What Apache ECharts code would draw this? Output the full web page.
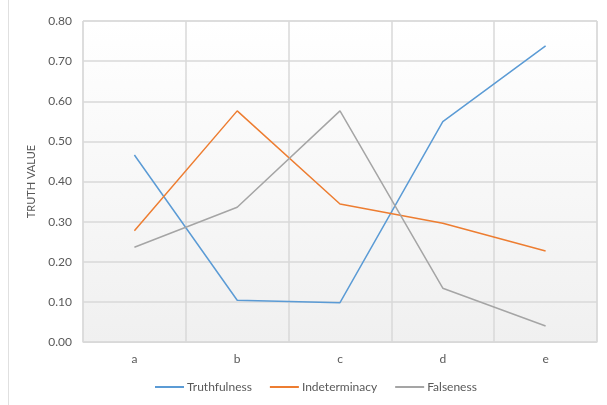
<!DOCTYPE html>
<html>
<head>
<meta charset="utf-8">
<script src="https://cdn.jsdelivr.net/npm/echarts@6/dist/echarts.min.js"></script>
<style>
  html, body { margin: 0; padding: 0; background: #fff; }
  #chart { width: 607px; height: 405px; }
</style>
</head>
<body>
<div id="chart"></div>
<script>
// Categories and the three truth-value series
const categories = ['a', 'b', 'c', 'd', 'e'];
const truthfulness = [0.466, 0.104, 0.098, 0.549, 0.738];
const indeterminacy = [0.277, 0.576, 0.344, 0.296, 0.227];
const falseness = [0.236, 0.336, 0.576, 0.134, 0.040];
const yTicks = { min: 0, max: 0.8, interval: 0.1 };

const FONT = 'Lato, "Open Sans", sans-serif';
const TEXT = '#595959';
const GRID_LINE = '#d9d9d9';

const chart = echarts.init(document.getElementById('chart'), null, { renderer: 'canvas' });

function lineSeries(name, data, color) {
  return {
    name: name,
    type: 'line',
    data: data,
    symbol: 'none',
    lineStyle: { color: color, width: 1.5 },
    itemStyle: { color: color },
    emphasis: { disabled: true },
    animation: false
  };
}

chart.setOption({
  backgroundColor: '#ffffff',
  animation: false,
  textStyle: { fontFamily: FONT },
  graphic: [{
    type: 'line',
    shape: { x1: 8.5, y1: 0, x2: 8.5, y2: 405 },
    style: { stroke: '#e0e0e0', lineWidth: 1 }
  }],
  grid: {
    left: 83, right: 10, top: 21, bottom: 63,
    show: true,
    borderColor: GRID_LINE,
    borderWidth: 1,
    backgroundColor: {
      type: 'linear', x: 0, y: 0, x2: 0, y2: 1,
      colorStops: [
        { offset: 0, color: '#ffffff' },
        { offset: 1, color: '#f0f0f0' }
      ]
    }
  },
  legend: {
    bottom: 7,
    left: 150,
    itemGap: 18,
    itemWidth: 29,
    itemHeight: 2,
    icon: 'rect',
    textStyle: { color: TEXT, fontSize: 12, fontFamily: FONT, padding: [0, 0, 0, -2] },
    data: ['Truthfulness', 'Indeterminacy', 'Falseness']
  },
  xAxis: {
    type: 'category',
    data: categories,
    boundaryGap: true,
    axisLine: { show: true, lineStyle: { color: GRID_LINE, width: 1 } },
    axisTick: { show: false },
    axisLabel: { color: TEXT, fontSize: 12, margin: 11, fontFamily: FONT },
    splitLine: { show: true, lineStyle: { color: GRID_LINE, width: 1.5 } }
  },
  yAxis: {
    type: 'value',
    min: yTicks.min,
    max: yTicks.max,
    interval: yTicks.interval,
    name: 'TRUTH VALUE',
    nameLocation: 'middle',
    nameGap: 43,
    nameTextStyle: { color: TEXT, fontSize: 11, fontFamily: FONT },
    axisLine: { show: false },
    axisTick: { show: false },
    axisLabel: {
      color: TEXT, fontSize: 12, margin: 11, fontFamily: FONT,
      formatter: v => v.toFixed(2)
    },
    splitLine: { show: true, lineStyle: { color: GRID_LINE, width: 1.5 } }
  },
  series: [
    lineSeries('Truthfulness', truthfulness, '#5B9BD5'),
    lineSeries('Indeterminacy', indeterminacy, '#ED7D31'),
    lineSeries('Falseness', falseness, '#A5A5A5')
  ]
});
</script>
</body>
</html>
